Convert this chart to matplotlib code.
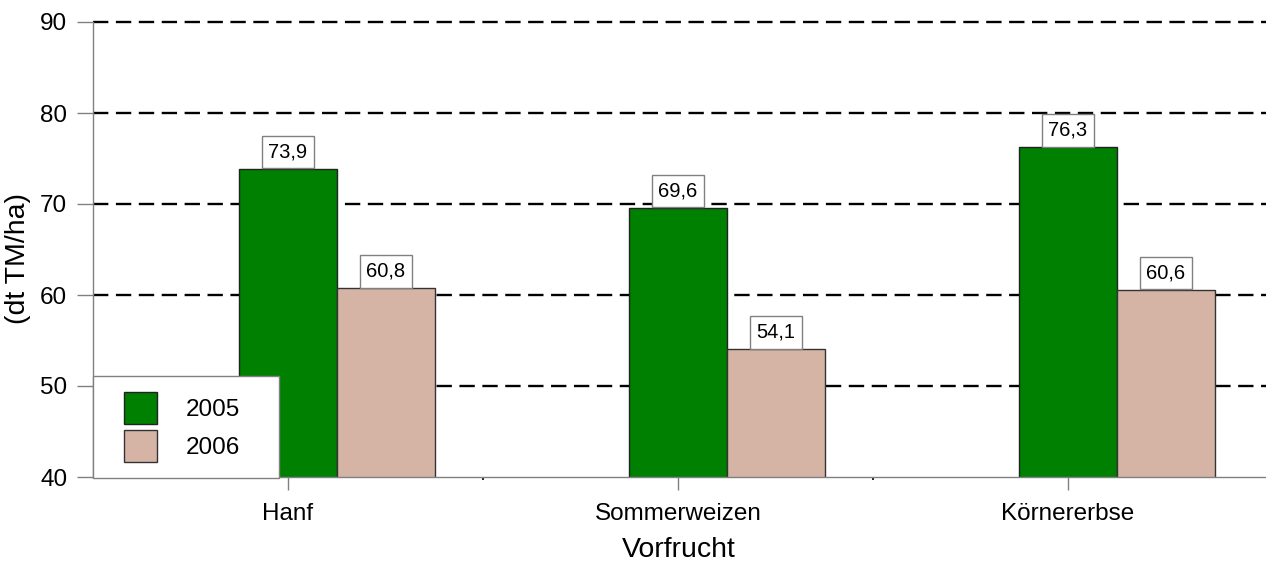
import matplotlib
matplotlib.use("Agg")
import matplotlib.pyplot as plt
from matplotlib.patches import Rectangle
import numpy as np

plt.rcParams['font.family'] = ['Liberation Sans', 'DejaVu Sans']

categories = ["Hanf", "Sommerweizen", "Körnererbse"]
years = ["2005", "2006"]
values_2005 = [73.9, 69.6, 76.3]
values_2006 = [60.8, 54.1, 60.6]
value_labels_2005 = ["73,9", "69,6", "76,3"]
value_labels_2006 = ["60,8", "54,1", "60,6"]
yticks = [40, 50, 60, 70, 80, 90]

W, H = 1266, 562
fig = plt.figure(figsize=(W / 100, H / 100), dpi=100)
L, R, T, B = 93, 1266, 22, 477
ax = fig.add_axes([L / W, 1 - B / H, (R - L) / W, (B - T) / H])

x = np.arange(len(categories))
bw = 0.251
green = "#008000"
pink = "#d5b4a6"
b1 = ax.bar(x, values_2005, width=bw, color=green, edgecolor="#222222",
            linewidth=1, zorder=3, label=years[0])
b2 = ax.bar(x + bw, values_2006, width=bw, color=pink, edgecolor="#333333",
            linewidth=1, zorder=3, label=years[1])

ax.set_ylim(40, 90)
ax.set_xlim(-0.5, -0.5 + (R - L) / 390)

# grid
for yv in yticks[1:]:
    ax.axhline(yv, color="black", linewidth=1.7, linestyle=(0, (6.5, 3.2)),
               zorder=1, clip_on=False)

for s in ["top", "right"]:
    ax.spines[s].set_visible(False)
for s in ["left", "bottom"]:
    ax.spines[s].set_color("#808080")
    ax.spines[s].set_linewidth(1)
    ax.spines[s].set_zorder(4)

ax.set_yticks(yticks)
ax.set_yticklabels([str(v) for v in yticks])
ax.tick_params(axis="y", length=11.5, width=1, color="#808080", pad=7, labelsize=17.5)
ax.set_xticks(x)
ax.set_xticklabels(categories)
ax.tick_params(axis="x", length=9.5, width=1, color="#808080", pad=9, labelsize=17.5)
ax.set_xticks(x[:-1] + 0.5, minor=True)
ax.tick_params(axis="x", which="minor", length=2.5, width=1.2, color="black")

# value boxes
for bars, labs in [(b1, value_labels_2005), (b2, value_labels_2006)]:
    for rect, lab in zip(bars, labs):
        cx = rect.get_x() + rect.get_width() / 2
        top = rect.get_height()
        ax.annotate(lab, (cx, top), xytext=(0, 4.9), textcoords="offset points",
                    ha="center", va="bottom", fontsize=14.5, zorder=6,
                    bbox=dict(boxstyle="square,pad=0.33", fc="white", ec="#808080", lw=1))

# legend frame
frame = Rectangle((L / W, 1 - 478 / H), (279 - L) / W, (478 - 376) / H,
                  transform=fig.transFigure, facecolor="white", edgecolor="#808080",
                  linewidth=1, zorder=7, clip_on=False)
fig.patches.append(frame)
leg = fig.legend(handles=[b1, b2], labels=years, frameon=False, loc="upper left",
                 bbox_to_anchor=(124 / W, 1 - 392 / H), bbox_transform=fig.transFigure,
                 fontsize=17.5, handlelength=1.36, handleheight=1.65, handletextpad=1.2,
                 labelspacing=0.25, borderpad=0, borderaxespad=0)
leg.set_zorder(8)

fig.text(18 / W, 1 - 258 / H, "(dt TM/ha)", rotation=90, ha="center", va="center", fontsize=20.5)
fig.text(679 / W, 1 - 550 / H, "Vorfrucht", ha="center", va="center", fontsize=20.5)

fig.savefig("out.png", dpi=100)
